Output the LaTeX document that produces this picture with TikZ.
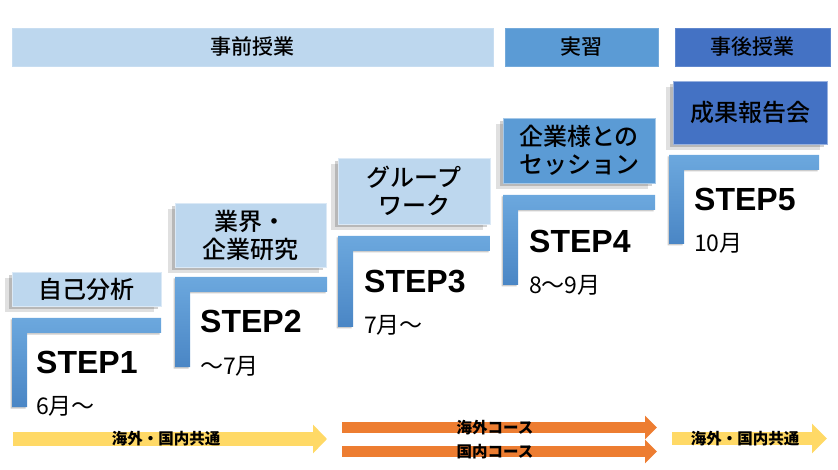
\documentclass[tikz,border=0pt]{standalone}
\usepackage{fontspec}
\usetikzlibrary{shadows}
\usetikzlibrary{arrows.meta}
\newfontfamily\jp{Noto Sans CJK JP}
\newfontfamily\jpm{Noto Sans CJK JP Medium}
\newfontfamily\stepfont{Liberation Sans}
\definecolor{lightblue}{HTML}{BDD7EE}
\definecolor{midblue}{HTML}{5B9BD5}
\definecolor{darkblue}{HTML}{4472C4}
\definecolor{bartop}{HTML}{6CA8DE}
\definecolor{barbot}{HTML}{4A86C5}
\definecolor{courseorange}{HTML}{ED7D31}
\definecolor{courseyellow}{HTML}{FFD966}

\begin{document}
\begin{tikzpicture}[x=1pt,y=-1pt,
  phase/.style={rectangle,fill=#1,draw=#1!85!white,minimum height=38pt,inner sep=0pt,font=\jpm\fontsize{21}{24}\selectfont},
  task/.style={rectangle,fill=#1,draw=#1!55!white,inner sep=0pt,align=center,font=\jpm\fontsize{24}{28}\selectfont,
    drop shadow={shadow xshift=-3pt,shadow yshift=-3pt,opacity=.18,fill=black},
    drop shadow={shadow xshift=-7pt,shadow yshift=-6pt,opacity=.12,fill=black}},
  lbar/.style={top color=bartop,bottom color=barbot,drop shadow={shadow xshift=-1.5pt,shadow yshift=-1.5pt,opacity=.2,fill=black}},
  stepno/.style={anchor=west,inner sep=0pt,font=\stepfont\bfseries\fontsize{32}{36}\selectfont},
  datetext/.style={anchor=west,inner sep=0pt,font=\jp\fontsize{23}{26}\selectfont},
  coursetext/.style={inner sep=0pt,font=\jp\bfseries\fontsize{15.5}{17}\selectfont},
  yellowcourse/.style={draw=courseyellow,line width=14pt,-{Triangle[length=14pt,width=28pt]}},
  orangecourse/.style={draw=courseorange,line width=11pt,-{Triangle[length=12pt,width=23pt]}}]
\useasboundingbox (0,0) rectangle (838,470);

% phases
\node [phase=lightblue,minimum width=481pt,at={(252.5,47)}] (pre) {事前授業};
\node [phase=midblue,minimum width=153pt,anchor=west,right=12pt,at=(pre.east)] (intern) {実習};
\node [phase=darkblue,minimum width=155pt,anchor=west,right=16pt,at=(intern.east)] (post) {事後授業};

% step 1
\node [task=lightblue,minimum width=149pt,minimum height=34pt,at={(86.5,289)}] (task1) {自己分析};
\path [lbar] (12,318) -- (161,318) -- (161,333) -- (27,333) -- (27,407) -- (12,407) -- cycle;
\node [stepno,at={(36,362.5)}] (step1) {STEP1};
\node [datetext,at={(36,406)}] (date1) {6月〜};

% step 2
\node [task=lightblue,minimum width=151pt,minimum height=64pt,at={(250.5,235)}] (task2) {業界・\\企業研究};
\path [lbar] (175,277) -- (327,277) -- (327,292) -- (190,292) -- (190,367) -- (175,367) -- cycle;
\node [stepno,at={(200,321.5)}] (step2) {STEP2};
\node [datetext,at={(200,366)}] (date2) {〜7月};

% step 3
\node [task=lightblue,minimum width=152pt,minimum height=66pt,at={(414,191)}] (task3) {グループ\\ワーク};
\path [lbar] (338,236) -- (490,236) -- (490,251) -- (353,251) -- (353,327) -- (338,327) -- cycle;
\node [stepno,at={(364,281.5)}] (step3) {STEP3};
\node [datetext,at={(364,325)}] (date3) {7月〜};

% step 4
\node [task=midblue,minimum width=152pt,minimum height=65pt,at={(579,150.5)}] (task4) {企業様との\\セッション};
\path [lbar] (503,195) -- (655,195) -- (655,210) -- (518,210) -- (518,285) -- (503,285) -- cycle;
\node [stepno,at={(529,241.5)}] (step4) {STEP4};
\node [datetext,at={(529,285)}] (date4) {8〜9月};

% step 5
\node [task=darkblue,minimum width=154pt,minimum height=63pt,at={(750,112.5)}] (task5) {成果報告会};
\path [lbar] (669,155) -- (819,155) -- (819,170) -- (684,170) -- (684,244) -- (669,244) -- cycle;
\node [stepno,at={(694,199)}] (step5) {STEP5};
\node [datetext,at={(694,243)}] (date5) {10月};

% courses
\coordinate (common1s) at (13,439);
\coordinate (common1e) at (327,439);
\coordinate (overseass) at (342,427.5);
\coordinate (oversease) at (657,427.5);
\coordinate (domestics) at (342,451.5);
\coordinate (domestice) at (657,451.5);
\coordinate (common2s) at (672,438.5);
\coordinate (common2e) at (827,438.5);
\draw [yellowcourse] (common1s) -- (common1e);
\draw [orangecourse] (overseass) -- (oversease);
\draw [orangecourse] (domestics) -- (domestice);
\draw [yellowcourse,line width=13pt,-{Triangle[length=15pt,width=29pt]}] (common2s) -- (common2e);
\node [coursetext,at={(166,439)}] (common1) {海外・国内共通};
\node [coursetext,at={(495,427.5)}] (overseas) {海外コース};
\node [coursetext,at={(495,451.5)}] (domestic) {国内コース};
\node [coursetext,at={(745,438.5)}] (common2) {海外・国内共通};
\end{tikzpicture}
\end{document}
